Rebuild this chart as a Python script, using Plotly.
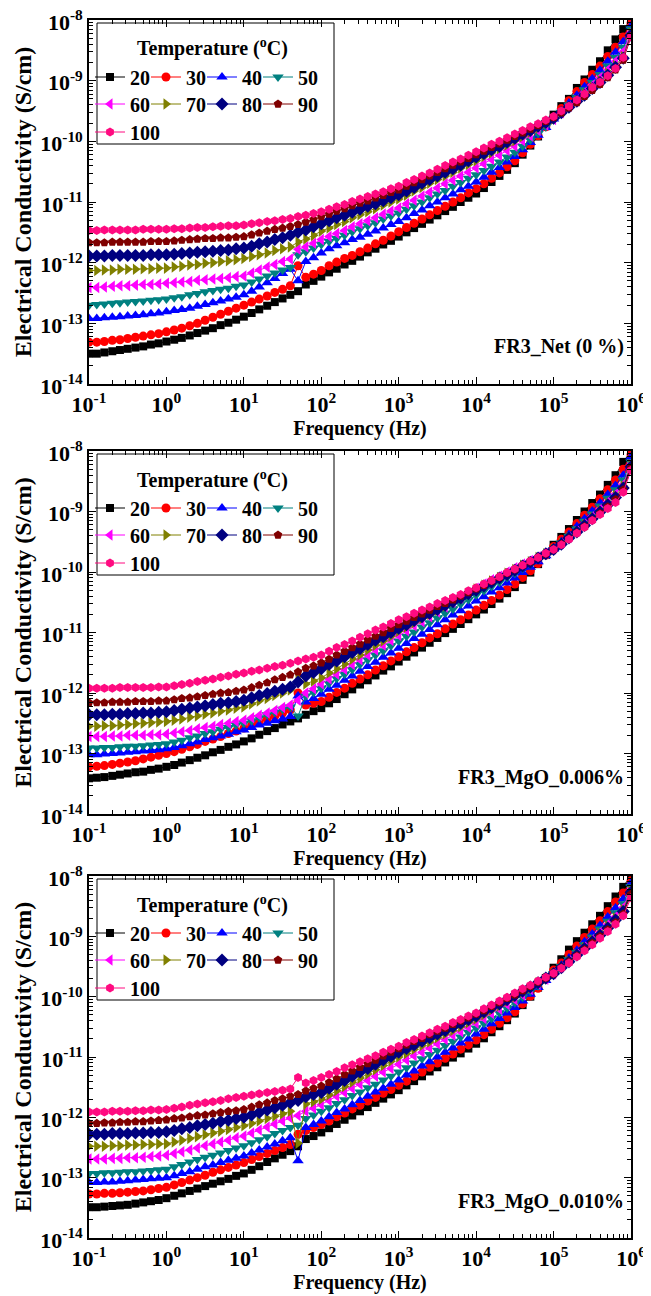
import plotly.graph_objects as go

# ---------------- data (log10 of conductivity, S/cm) ----------------
freq_hz = [0.1, 0.126, 0.158, 0.2, 0.251, 0.316, 0.398, 0.501, 0.631, 0.794,
           1, 1.26, 1.58, 2, 2.51, 3.16, 3.98, 5.01, 6.31, 7.94,
           10, 12.6, 15.8, 20, 25.1, 31.6, 39.8, 50.1, 63.1, 79.4,
           100, 126, 158, 200, 251, 316, 398, 501, 631, 794,
           1e3, 1.26e3, 1.58e3, 2e3, 2.51e3, 3.16e3, 3.98e3, 5.01e3, 6.31e3, 7.94e3,
           1e4, 1.26e4, 1.58e4, 2e4, 2.51e4, 3.16e4, 3.98e4, 5.01e4, 6.31e4, 7.94e4,
           1e5, 1.26e5, 1.58e5, 2e5, 2.51e5, 3.16e5, 3.98e5, 5.01e5, 6.31e5, 7.94e5,
           1e6]

temps = ["20", "30", "40", "50", "60", "70", "80", "90", "100"]

# FR3_Net (0 %)
net_T20 = [-13.50,-13.50,-13.48,-13.46,-13.44,-13.42,-13.40,-13.38,-13.35,-13.33,-13.30,-13.27,-13.24,-13.20,-13.16,-13.12,-13.08,-13.03,-12.99,-12.94,-12.89,-12.83,-12.77,-12.71,-12.65,-12.59,-12.53,-12.47,-12.36,-12.30,-12.23,-12.16,-12.10,-12.03,-11.97,-11.90,-11.83,-11.77,-11.70,-11.64,-11.57,-11.50,-11.43,-11.36,-11.29,-11.22,-11.15,-11.08,-11.00,-10.93,-10.86,-10.77,-10.67,-10.57,-10.47,-10.36,-10.22,-10.07,-9.92,-9.75,-9.56,-9.42,-9.30,-9.12,-8.98,-8.82,-8.68,-8.50,-8.32,-8.15,-8.00]
net_T30 = [-13.31,-13.31,-13.30,-13.28,-13.27,-13.25,-13.23,-13.21,-13.19,-13.17,-13.14,-13.11,-13.08,-13.04,-13.00,-12.95,-12.90,-12.85,-12.80,-12.75,-12.70,-12.65,-12.60,-12.55,-12.49,-12.44,-12.38,-12.05,-12.24,-12.19,-12.13,-12.05,-11.99,-11.93,-11.88,-11.82,-11.76,-11.69,-11.63,-11.56,-11.49,-11.42,-11.35,-11.28,-11.21,-11.14,-11.07,-11.00,-10.93,-10.85,-10.78,-10.70,-10.61,-10.52,-10.42,-10.32,-10.19,-10.05,-9.91,-9.76,-9.60,-9.46,-9.33,-9.18,-9.03,-8.90,-8.76,-8.60,-8.45,-8.28,-8.05]
net_T40 = [-12.92,-12.92,-12.91,-12.90,-12.89,-12.88,-12.87,-12.86,-12.84,-12.83,-12.81,-12.79,-12.77,-12.75,-12.72,-12.69,-12.66,-12.63,-12.60,-12.57,-12.53,-12.47,-12.40,-12.33,-12.26,-12.18,-12.11,-12.30,-11.98,-11.92,-11.84,-11.77,-11.72,-11.67,-11.62,-11.58,-11.53,-11.48,-11.43,-11.37,-11.32,-11.26,-11.19,-11.13,-11.06,-11.00,-10.93,-10.87,-10.80,-10.74,-10.67,-10.59,-10.51,-10.43,-10.34,-10.25,-10.14,-10.02,-9.90,-9.77,-9.63,-9.50,-9.37,-9.24,-9.10,-8.97,-8.83,-8.68,-8.53,-8.36,-8.10]
net_T50 = [-12.70,-12.69,-12.68,-12.67,-12.66,-12.65,-12.64,-12.63,-12.62,-12.61,-12.60,-12.58,-12.56,-12.53,-12.51,-12.48,-12.46,-12.44,-12.42,-12.39,-12.37,-12.32,-12.27,-12.22,-12.17,-12.12,-12.08,-11.87,-11.82,-11.76,-11.70,-11.65,-11.60,-11.55,-11.49,-11.44,-11.39,-11.34,-11.28,-11.23,-11.18,-11.12,-11.06,-11.00,-10.93,-10.87,-10.81,-10.74,-10.68,-10.61,-10.55,-10.48,-10.41,-10.34,-10.26,-10.18,-10.08,-9.98,-9.87,-9.76,-9.64,-9.52,-9.40,-9.28,-9.15,-9.03,-8.90,-8.76,-8.62,-8.45,-8.15]
net_T60 = [-12.41,-12.41,-12.40,-12.39,-12.38,-12.38,-12.37,-12.36,-12.36,-12.35,-12.34,-12.33,-12.32,-12.31,-12.29,-12.28,-12.27,-12.26,-12.25,-12.23,-12.22,-12.17,-12.12,-12.07,-12.03,-11.98,-11.94,-11.78,-11.74,-11.68,-11.62,-11.57,-11.52,-11.47,-11.41,-11.36,-11.31,-11.26,-11.20,-11.15,-11.10,-11.03,-10.97,-10.90,-10.84,-10.77,-10.70,-10.64,-10.57,-10.51,-10.44,-10.37,-10.30,-10.23,-10.15,-10.08,-9.99,-9.91,-9.82,-9.73,-9.64,-9.53,-9.42,-9.31,-9.19,-9.07,-8.95,-8.82,-8.68,-8.52,-8.20]
net_T70 = [-12.13,-12.13,-12.12,-12.12,-12.11,-12.11,-12.11,-12.10,-12.10,-12.09,-12.09,-12.07,-12.06,-12.04,-12.03,-12.01,-12.00,-11.98,-11.97,-11.95,-11.93,-11.90,-11.87,-11.84,-11.80,-11.77,-11.74,-11.66,-11.61,-11.55,-11.48,-11.43,-11.37,-11.32,-11.26,-11.21,-11.16,-11.11,-11.05,-11.00,-10.95,-10.89,-10.82,-10.76,-10.69,-10.63,-10.57,-10.51,-10.44,-10.38,-10.32,-10.25,-10.19,-10.12,-10.06,-9.99,-9.92,-9.85,-9.78,-9.70,-9.63,-9.53,-9.43,-9.33,-9.22,-9.11,-9.00,-8.88,-8.75,-8.60,-8.22]
net_T80 = [-11.89,-11.89,-11.89,-11.88,-11.88,-11.88,-11.88,-11.88,-11.87,-11.87,-11.87,-11.86,-11.85,-11.84,-11.83,-11.82,-11.81,-11.80,-11.79,-11.77,-11.76,-11.73,-11.69,-11.66,-11.62,-11.59,-11.55,-11.50,-11.46,-11.41,-11.36,-11.31,-11.26,-11.22,-11.17,-11.12,-11.07,-11.03,-10.98,-10.93,-10.88,-10.82,-10.76,-10.69,-10.63,-10.57,-10.51,-10.45,-10.39,-10.32,-10.26,-10.20,-10.14,-10.08,-10.01,-9.95,-9.88,-9.82,-9.75,-9.69,-9.62,-9.53,-9.44,-9.34,-9.24,-9.13,-9.03,-8.91,-8.78,-8.63,-8.25]
net_T90 = [-11.67,-11.67,-11.67,-11.66,-11.66,-11.66,-11.66,-11.66,-11.65,-11.65,-11.65,-11.64,-11.63,-11.62,-11.61,-11.60,-11.60,-11.59,-11.59,-11.58,-11.57,-11.54,-11.51,-11.48,-11.45,-11.43,-11.40,-11.37,-11.33,-11.29,-11.24,-11.20,-11.15,-11.11,-11.06,-11.02,-10.98,-10.93,-10.89,-10.84,-10.80,-10.74,-10.68,-10.63,-10.57,-10.51,-10.45,-10.39,-10.34,-10.28,-10.22,-10.16,-10.10,-10.04,-9.98,-9.92,-9.86,-9.80,-9.74,-9.67,-9.61,-9.53,-9.45,-9.36,-9.26,-9.16,-9.06,-8.95,-8.82,-8.66,-8.27]
net_T100 = [-11.47,-11.47,-11.46,-11.46,-11.46,-11.46,-11.46,-11.45,-11.45,-11.45,-11.45,-11.44,-11.44,-11.43,-11.42,-11.42,-11.41,-11.40,-11.39,-11.39,-11.38,-11.36,-11.34,-11.32,-11.31,-11.29,-11.27,-11.24,-11.22,-11.19,-11.16,-11.12,-11.08,-11.04,-10.99,-10.95,-10.91,-10.87,-10.83,-10.78,-10.74,-10.68,-10.63,-10.57,-10.52,-10.46,-10.40,-10.34,-10.29,-10.23,-10.17,-10.11,-10.05,-10.00,-9.94,-9.88,-9.82,-9.76,-9.71,-9.65,-9.59,-9.50,-9.42,-9.32,-9.22,-9.11,-9.02,-8.92,-8.80,-8.62,-8.28]

# FR3_MgO_0.006%
m006_T20 = [-13.41,-13.40,-13.39,-13.37,-13.35,-13.33,-13.31,-13.30,-13.27,-13.25,-13.22,-13.19,-13.15,-13.11,-13.07,-13.03,-12.98,-12.94,-12.89,-12.85,-12.80,-12.75,-12.69,-12.63,-12.58,-12.52,-12.47,-12.42,-12.36,-12.30,-12.25,-12.17,-12.10,-12.02,-11.94,-11.86,-11.79,-11.71,-11.63,-11.56,-11.48,-11.40,-11.33,-11.25,-11.17,-11.09,-11.01,-10.94,-10.86,-10.78,-10.70,-10.62,-10.53,-10.44,-10.35,-10.25,-10.13,-10.01,-9.87,-9.72,-9.55,-9.42,-9.29,-9.14,-9.00,-8.86,-8.72,-8.56,-8.40,-8.18,-8.00]
m006_T30 = [-13.22,-13.21,-13.20,-13.18,-13.16,-13.14,-13.12,-13.09,-13.06,-13.03,-13.00,-12.97,-12.93,-12.89,-12.85,-12.80,-12.76,-12.72,-12.67,-12.63,-12.58,-12.53,-12.48,-12.43,-12.38,-12.33,-12.28,-12.00,-12.20,-12.17,-12.14,-12.07,-11.99,-11.92,-11.84,-11.77,-11.70,-11.62,-11.55,-11.47,-11.40,-11.32,-11.25,-11.17,-11.09,-11.02,-10.94,-10.86,-10.79,-10.71,-10.63,-10.55,-10.47,-10.38,-10.29,-10.20,-10.09,-9.98,-9.86,-9.72,-9.58,-9.46,-9.34,-9.20,-9.06,-8.93,-8.79,-8.64,-8.48,-8.30,-8.06]
m006_T40 = [-13.02,-13.02,-13.01,-13.00,-12.99,-12.98,-12.97,-12.96,-12.95,-12.94,-12.92,-12.90,-12.87,-12.84,-12.81,-12.77,-12.74,-12.71,-12.68,-12.64,-12.61,-12.57,-12.53,-12.50,-12.46,-12.43,-12.39,-12.05,-12.15,-12.09,-12.02,-11.94,-11.87,-11.79,-11.72,-11.64,-11.56,-11.49,-11.41,-11.34,-11.26,-11.18,-11.10,-11.03,-10.95,-10.87,-10.79,-10.71,-10.64,-10.56,-10.48,-10.41,-10.33,-10.26,-10.18,-10.10,-10.01,-9.92,-9.83,-9.73,-9.62,-9.50,-9.38,-9.25,-9.12,-8.99,-8.86,-8.72,-8.57,-8.40,-8.10]
m006_T50 = [-12.91,-12.91,-12.90,-12.90,-12.89,-12.88,-12.88,-12.87,-12.86,-12.85,-12.84,-12.81,-12.78,-12.74,-12.71,-12.67,-12.64,-12.60,-12.57,-12.53,-12.50,-12.46,-12.41,-12.36,-12.32,-12.27,-12.23,-12.38,-12.05,-11.99,-11.92,-11.84,-11.76,-11.69,-11.61,-11.53,-11.45,-11.37,-11.30,-11.22,-11.14,-11.06,-10.99,-10.91,-10.84,-10.76,-10.68,-10.61,-10.53,-10.46,-10.38,-10.31,-10.24,-10.17,-10.09,-10.02,-9.94,-9.87,-9.79,-9.71,-9.63,-9.52,-9.41,-9.29,-9.16,-9.04,-8.91,-8.78,-8.64,-8.48,-8.18]
m006_T60 = [-12.72,-12.72,-12.72,-12.71,-12.71,-12.70,-12.70,-12.70,-12.69,-12.69,-12.68,-12.66,-12.64,-12.62,-12.59,-12.57,-12.55,-12.52,-12.50,-12.47,-12.45,-12.41,-12.37,-12.33,-12.29,-12.24,-12.20,-12.12,-12.00,-11.93,-11.85,-11.77,-11.69,-11.61,-11.53,-11.45,-11.37,-11.29,-11.21,-11.13,-11.05,-10.97,-10.89,-10.82,-10.74,-10.66,-10.58,-10.50,-10.43,-10.35,-10.27,-10.20,-10.13,-10.07,-10.00,-9.93,-9.87,-9.81,-9.75,-9.69,-9.62,-9.53,-9.43,-9.32,-9.20,-9.08,-8.96,-8.84,-8.71,-8.55,-8.22]
m006_T70 = [-12.55,-12.55,-12.54,-12.54,-12.53,-12.52,-12.51,-12.50,-12.49,-12.48,-12.47,-12.45,-12.43,-12.40,-12.38,-12.35,-12.33,-12.30,-12.28,-12.25,-12.23,-12.18,-12.13,-12.09,-12.04,-12.00,-11.95,-11.72,-11.85,-11.80,-11.75,-11.67,-11.60,-11.52,-11.44,-11.37,-11.29,-11.21,-11.14,-11.06,-10.98,-10.91,-10.84,-10.77,-10.70,-10.63,-10.56,-10.49,-10.42,-10.35,-10.28,-10.22,-10.15,-10.09,-10.02,-9.96,-9.89,-9.83,-9.76,-9.70,-9.63,-9.53,-9.43,-9.33,-9.22,-9.10,-8.99,-8.87,-8.74,-8.58,-8.24]
m006_T80 = [-12.36,-12.36,-12.36,-12.35,-12.35,-12.34,-12.34,-12.33,-12.33,-12.32,-12.31,-12.29,-12.27,-12.25,-12.23,-12.21,-12.19,-12.17,-12.16,-12.14,-12.12,-12.08,-12.04,-12.01,-11.97,-11.94,-11.90,-11.82,-11.72,-11.66,-11.60,-11.53,-11.47,-11.40,-11.33,-11.27,-11.20,-11.13,-11.07,-11.00,-10.93,-10.87,-10.80,-10.74,-10.68,-10.62,-10.55,-10.49,-10.43,-10.36,-10.30,-10.23,-10.17,-10.10,-10.04,-9.97,-9.90,-9.84,-9.77,-9.70,-9.63,-9.54,-9.44,-9.34,-9.23,-9.12,-9.01,-8.89,-8.77,-8.61,-8.26]
m006_T90 = [-12.16,-12.16,-12.16,-12.15,-12.15,-12.15,-12.14,-12.14,-12.14,-12.13,-12.13,-12.11,-12.09,-12.08,-12.06,-12.04,-12.02,-12.00,-11.99,-11.97,-11.95,-11.91,-11.87,-11.83,-11.78,-11.74,-11.70,-11.65,-11.59,-11.55,-11.50,-11.44,-11.37,-11.31,-11.25,-11.19,-11.12,-11.06,-11.00,-10.93,-10.87,-10.81,-10.75,-10.69,-10.63,-10.57,-10.52,-10.46,-10.40,-10.34,-10.28,-10.22,-10.15,-10.09,-10.02,-9.96,-9.89,-9.83,-9.76,-9.70,-9.63,-9.54,-9.45,-9.35,-9.25,-9.14,-9.03,-8.92,-8.80,-8.64,-8.28]
m006_T100 = [-11.92,-11.92,-11.92,-11.92,-11.91,-11.91,-11.91,-11.91,-11.91,-11.90,-11.90,-11.88,-11.86,-11.84,-11.81,-11.79,-11.77,-11.74,-11.72,-11.69,-11.67,-11.64,-11.62,-11.59,-11.56,-11.54,-11.51,-11.47,-11.44,-11.41,-11.37,-11.31,-11.25,-11.20,-11.14,-11.08,-11.02,-10.96,-10.91,-10.85,-10.79,-10.74,-10.68,-10.63,-10.58,-10.52,-10.47,-10.42,-10.37,-10.31,-10.26,-10.20,-10.14,-10.08,-10.01,-9.95,-9.89,-9.82,-9.76,-9.69,-9.63,-9.55,-9.46,-9.36,-9.26,-9.15,-9.05,-8.95,-8.85,-8.68,-8.32]

# FR3_MgO_0.010%
m010_T20 = [-13.49,-13.49,-13.48,-13.47,-13.46,-13.45,-13.43,-13.41,-13.39,-13.37,-13.34,-13.30,-13.26,-13.22,-13.18,-13.14,-13.10,-13.06,-13.02,-12.97,-12.93,-12.87,-12.81,-12.74,-12.68,-12.62,-12.56,-12.48,-12.36,-12.31,-12.25,-12.18,-12.11,-12.04,-11.97,-11.90,-11.83,-11.76,-11.69,-11.62,-11.55,-11.47,-11.40,-11.32,-11.24,-11.17,-11.09,-11.01,-10.94,-10.86,-10.78,-10.69,-10.59,-10.49,-10.39,-10.28,-10.14,-10.00,-9.85,-9.69,-9.52,-9.38,-9.22,-9.08,-8.94,-8.80,-8.66,-8.50,-8.34,-8.18,-8.00]
m010_T30 = [-13.27,-13.27,-13.26,-13.26,-13.25,-13.24,-13.23,-13.22,-13.20,-13.18,-13.16,-13.12,-13.08,-13.04,-13.00,-12.96,-12.91,-12.87,-12.83,-12.79,-12.75,-12.70,-12.65,-12.60,-12.55,-12.50,-12.45,-12.28,-12.22,-12.17,-12.12,-12.06,-11.99,-11.93,-11.86,-11.80,-11.73,-11.67,-11.60,-11.54,-11.47,-11.40,-11.32,-11.25,-11.17,-11.10,-11.02,-10.95,-10.87,-10.80,-10.72,-10.63,-10.54,-10.44,-10.35,-10.25,-10.12,-9.99,-9.86,-9.71,-9.56,-9.44,-9.30,-9.16,-9.02,-8.88,-8.74,-8.59,-8.43,-8.28,-8.08]
m010_T40 = [-13.08,-13.08,-13.07,-13.07,-13.06,-13.05,-13.04,-13.03,-13.02,-13.01,-13.00,-12.97,-12.93,-12.90,-12.86,-12.82,-12.79,-12.75,-12.71,-12.68,-12.64,-12.59,-12.54,-12.49,-12.44,-12.39,-12.34,-12.72,-12.17,-12.12,-12.06,-11.99,-11.92,-11.86,-11.79,-11.72,-11.65,-11.58,-11.52,-11.45,-11.38,-11.30,-11.23,-11.15,-11.08,-11.00,-10.92,-10.85,-10.77,-10.70,-10.62,-10.54,-10.45,-10.36,-10.27,-10.18,-10.07,-9.96,-9.85,-9.73,-9.60,-9.48,-9.36,-9.23,-9.09,-8.96,-8.82,-8.68,-8.53,-8.38,-8.12]
m010_T50 = [-12.93,-12.93,-12.92,-12.92,-12.91,-12.90,-12.90,-12.89,-12.88,-12.87,-12.86,-12.82,-12.78,-12.74,-12.70,-12.66,-12.63,-12.59,-12.55,-12.51,-12.47,-12.42,-12.37,-12.32,-12.27,-12.22,-12.17,-12.13,-12.02,-11.96,-11.90,-11.84,-11.77,-11.71,-11.64,-11.58,-11.51,-11.45,-11.38,-11.32,-11.25,-11.18,-11.10,-11.03,-10.96,-10.89,-10.81,-10.74,-10.67,-10.59,-10.52,-10.44,-10.36,-10.27,-10.19,-10.10,-10.01,-9.91,-9.82,-9.72,-9.62,-9.50,-9.39,-9.27,-9.14,-9.01,-8.88,-8.75,-8.61,-8.46,-8.18]
m010_T60 = [-12.69,-12.69,-12.69,-12.68,-12.68,-12.67,-12.67,-12.66,-12.65,-12.64,-12.63,-12.60,-12.57,-12.54,-12.51,-12.47,-12.44,-12.41,-12.38,-12.34,-12.31,-12.26,-12.21,-12.16,-12.11,-12.06,-12.01,-11.97,-11.90,-11.85,-11.79,-11.72,-11.65,-11.59,-11.52,-11.45,-11.39,-11.32,-11.25,-11.19,-11.12,-11.05,-10.98,-10.92,-10.85,-10.78,-10.71,-10.64,-10.58,-10.51,-10.44,-10.36,-10.28,-10.21,-10.13,-10.05,-9.97,-9.88,-9.80,-9.71,-9.62,-9.51,-9.40,-9.29,-9.17,-9.05,-8.93,-8.80,-8.67,-8.52,-8.22]
m010_T70 = [-12.48,-12.48,-12.48,-12.47,-12.47,-12.46,-12.46,-12.45,-12.45,-12.44,-12.44,-12.41,-12.38,-12.35,-12.32,-12.29,-12.26,-12.23,-12.20,-12.17,-12.14,-12.10,-12.06,-12.02,-11.98,-11.94,-11.90,-12.43,-11.78,-11.74,-11.70,-11.63,-11.56,-11.49,-11.42,-11.35,-11.28,-11.21,-11.14,-11.07,-11.00,-10.94,-10.87,-10.81,-10.75,-10.68,-10.62,-10.56,-10.50,-10.43,-10.37,-10.30,-10.22,-10.15,-10.07,-10.00,-9.92,-9.85,-9.77,-9.70,-9.62,-9.51,-9.41,-9.30,-9.19,-9.07,-8.95,-8.83,-8.70,-8.56,-8.24]
m010_T80 = [-12.28,-12.28,-12.28,-12.27,-12.27,-12.27,-12.26,-12.26,-12.25,-12.25,-12.24,-12.22,-12.19,-12.17,-12.14,-12.12,-12.10,-12.07,-12.05,-12.02,-12.00,-11.96,-11.92,-11.88,-11.84,-11.80,-11.76,-11.72,-11.66,-11.62,-11.59,-11.52,-11.45,-11.39,-11.32,-11.25,-11.19,-11.12,-11.05,-10.99,-10.92,-10.86,-10.80,-10.74,-10.68,-10.62,-10.56,-10.50,-10.44,-10.38,-10.32,-10.25,-10.18,-10.12,-10.05,-9.98,-9.91,-9.84,-9.77,-9.69,-9.62,-9.52,-9.42,-9.31,-9.20,-9.09,-8.98,-8.86,-8.73,-8.59,-8.27]
m010_T90 = [-12.10,-12.10,-12.09,-12.09,-12.08,-12.08,-12.07,-12.07,-12.06,-12.05,-12.04,-12.02,-12.01,-11.99,-11.97,-11.96,-11.94,-11.92,-11.90,-11.89,-11.87,-11.83,-11.79,-11.76,-11.72,-11.69,-11.65,-11.62,-11.56,-11.52,-11.48,-11.42,-11.36,-11.29,-11.23,-11.17,-11.11,-11.05,-10.98,-10.92,-10.86,-10.80,-10.74,-10.69,-10.63,-10.57,-10.52,-10.46,-10.40,-10.35,-10.29,-10.23,-10.16,-10.10,-10.03,-9.97,-9.90,-9.83,-9.76,-9.69,-9.62,-9.52,-9.42,-9.32,-9.22,-9.11,-9.00,-8.89,-8.77,-8.63,-8.30]
m010_T100 = [-11.91,-11.91,-11.91,-11.90,-11.90,-11.90,-11.89,-11.89,-11.88,-11.88,-11.87,-11.85,-11.83,-11.80,-11.78,-11.76,-11.74,-11.72,-11.69,-11.67,-11.65,-11.63,-11.61,-11.59,-11.57,-11.55,-11.53,-11.34,-11.43,-11.39,-11.34,-11.29,-11.24,-11.18,-11.13,-11.08,-11.03,-10.98,-10.92,-10.87,-10.82,-10.76,-10.71,-10.65,-10.60,-10.54,-10.49,-10.43,-10.38,-10.32,-10.27,-10.20,-10.14,-10.07,-10.01,-9.94,-9.87,-9.81,-9.74,-9.68,-9.61,-9.53,-9.44,-9.34,-9.24,-9.14,-9.03,-8.92,-8.80,-8.66,-8.36]

panel_series = [
    [net_T20, net_T30, net_T40, net_T50, net_T60, net_T70, net_T80, net_T90, net_T100],
    [m006_T20, m006_T30, m006_T40, m006_T50, m006_T60, m006_T70, m006_T80, m006_T90, m006_T100],
    [m010_T20, m010_T30, m010_T40, m010_T50, m010_T60, m010_T70, m010_T80, m010_T90, m010_T100],
]
panel_labels = ["FR3_Net (0 %)", "FR3_MgO_0.006%", "FR3_MgO_0.010%"]

for pi, group in enumerate(panel_series):
    for si, s in enumerate(group):
        assert len(s) == len(freq_hz), f"panel {pi} series {si} has {len(s)}"

# ---------------- style ----------------
colors = ["#000000", "#FF0000", "#0000FF", "#008080", "#FF00FF",
          "#808000", "#000080", "#800000", "#FF0A80"]
symbols = ["square", "circle", "triangle-up", "triangle-down", "triangle-left",
           "triangle-right", "diamond", "pentagon", "hexagon"]
msizes = [8, 9, 10, 10, 10, 10, 10, 9, 9]

FONT = "Liberation Serif"
OFF = 8                      # the page body margin shifts the figure by 8 px
W, H = 651 - OFF, 1296 - OFF
PLOT_L, PLOT_R = 89, 631     # page pixel coordinates of the plot area
PLOT_T, PLOT_B = 20, 1238
ML, MR = PLOT_L - OFF, W - (PLOT_R - OFF)
MT, MB = PLOT_T - OFF, H - (PLOT_B - OFF)
PW, PH = W - ML - MR, H - MT - MB

def fx(px):
    return (px - OFF - ML) / PW

def fy(py):
    return 1 - (py - OFF - MT) / PH

panel_px = [(20, 384), (451, 814), (876, 1238)]

fig = go.Figure()
layout = dict(
    width=W, height=H,
    margin=dict(l=ML, r=MR, t=MT, b=MB, autoexpand=False),
    paper_bgcolor="white", plot_bgcolor="white",
    font=dict(family=FONT, color="black"),
    showlegend=True,
)

x_tickvals = [0.1, 1, 10, 100, 1e3, 1e4, 1e5, 1e6]
x_ticktext = ["<b>10<sup>-1</sup></b>", "<b>10<sup>0</sup></b>", "<b>10<sup>1</sup></b>",
              "<b>10<sup>2</sup></b>", "<b>10<sup>3</sup></b>", "<b>10<sup>4</sup></b>",
              "<b>10<sup>5</sup></b>", "<b>10<sup>6</sup></b>"]
y_tickvals = [1e-14, 1e-13, 1e-12, 1e-11, 1e-10, 1e-9, 1e-8]
y_ticktext = ["<b>10<sup>-14</sup></b>", "<b>10<sup>-13</sup></b>", "<b>10<sup>-12</sup></b>",
              "<b>10<sup>-11</sup></b>", "<b>10<sup>-10</sup></b>", "<b>10<sup>-9</sup></b>",
              "<b>10<sup>-8</sup></b>"]

shapes = []
annotations = []
legend_n = 0
row_offsets = [57, 84, 112]          # legend row centres below panel top (px)
col_text_x = [137, 193, 249, 305]    # legend entry text starts (page px)

for pi, group in enumerate(panel_series):
    top, bot = panel_px[pi]
    xa = "xaxis" if pi == 0 else f"xaxis{pi+1}"
    ya = "yaxis" if pi == 0 else f"yaxis{pi+1}"
    xr = "x" if pi == 0 else f"x{pi+1}"
    yr = "y" if pi == 0 else f"y{pi+1}"
    common = dict(
        type="log", showline=True, linecolor="black", linewidth=1.6,
        mirror="allticks", ticks="inside", ticklen=7, tickwidth=1.4, tickcolor="black",
        showgrid=False, zeroline=False, ticklabeloverflow="allow",
        minor=dict(ticks="inside", ticklen=4, tickwidth=1.1, tickcolor="black", dtick="D1", showgrid=False),
        tickfont=dict(family=FONT, size=22, color="black"),
    )
    layout[xa] = dict(common, domain=[0, 1], anchor=yr, range=[-1, 6.0],
                      tickvals=x_tickvals, ticktext=x_ticktext,
                      title=dict(text="<b>Frequency (Hz)</b>", font=dict(family=FONT, size=20), standoff=2))
    layout[ya] = dict(common, domain=[fy(bot), fy(top)], anchor=xr, range=[-14, -8],
                      tickvals=y_tickvals, ticktext=y_ticktext, ticklabelshift=2,
                      title=dict(text="<b>Electrical Conductivity (S/cm)</b>", font=dict(family=FONT, size=24), standoff=2))

    for si, s in enumerate(group):
        ri, ci = divmod(si, 4)
        legend_n += 1
        lname = "legend" if legend_n == 1 else f"legend{legend_n}"
        layout[lname] = dict(
            orientation="h", x=fx(col_text_x[ci] - 47), xanchor="left",
            y=fy(top + row_offsets[ri]), yanchor="middle",
            bgcolor="rgba(0,0,0,0)", borderwidth=0, itemwidth=30,
            font=dict(family=FONT, size=20, color="black", weight="bold"),
            itemclick=False, itemdoubleclick=False,
        )
        fig.add_trace(go.Scatter(
            x=freq_hz, y=[10 ** v for v in s], name=temps[si],
            mode="lines+markers", xaxis=xr, yaxis=yr, legend=lname,
            line=dict(color=colors[si], width=1),
            marker=dict(symbol=symbols[si], size=msizes[si], color=colors[si], line=dict(width=0)),
        ))

    # legend box
    shapes.append(dict(type="rect", xref="paper", yref="paper",
                       x0=fx(97), x1=fx(334), y0=fy(top + 124), y1=fy(top + 3),
                       line=dict(color="black", width=1), fillcolor="rgba(0,0,0,0)", layer="above"))
    annotations.append(dict(text="<b>Temperature (<sup>o</sup>C)</b>", xref="paper", yref="paper",
                            x=fx(212), y=fy(top + 28), xanchor="center", yanchor="middle",
                            showarrow=False, font=dict(family=FONT, size=20, color="black")))
    annotations.append(dict(text=f"<b>{panel_labels[pi]}</b>", xref="paper", yref="paper",
                            x=fx(626), y=fy(bot - 37), xanchor="right", yanchor="middle",
                            showarrow=False, font=dict(family=FONT, size=20, color="black")))

layout["shapes"] = shapes
layout["annotations"] = annotations
fig.update_layout(**layout)
fig.write_html("out.html")
